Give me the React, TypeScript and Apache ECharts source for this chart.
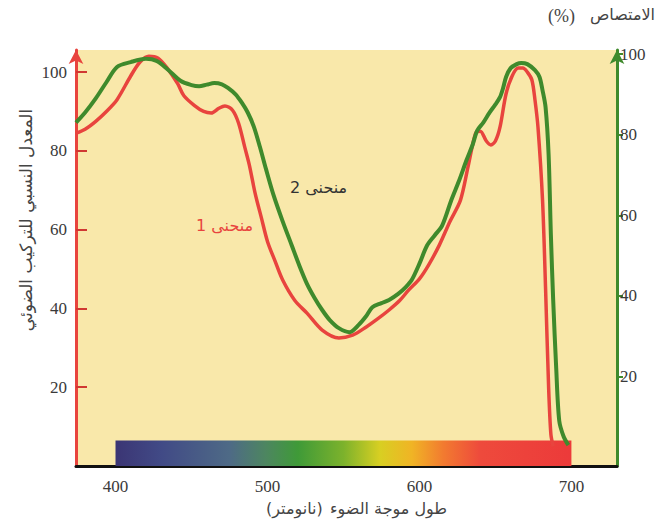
import React, { useEffect, useRef } from "react";
import * as echarts from "echarts";

// Curve 1 (red): relative rate of photosynthesis, left axis
const wavelengths1 = [374, 380, 387, 394, 401, 410, 416, 422, 428, 434, 441, 445, 452, 458, 463, 468, 472, 477, 481, 485, 488, 492, 496, 500, 505, 510, 518, 526, 536, 547, 556, 565, 572, 580, 587, 593, 600, 606, 613, 620, 627, 632, 637, 640, 644, 647, 650, 653, 657, 661, 665, 668, 671, 674, 676, 678, 681, 683, 685, 686.5, 688];
const curve1 = [84.5, 85.5, 87.5, 90, 93, 99, 102.5, 104, 103.5, 101, 97, 94, 91.5, 90, 89.6, 90.8, 91.4, 90.3, 87, 81, 76.5, 69, 63, 57, 52, 47.2, 42, 38.8, 34.5, 32.5, 33.2, 35.3, 37.2, 39.6, 42, 44.7, 47.5, 51, 56, 62, 67.5, 76, 84.5, 85, 82.5, 81.5, 82.5, 86, 94.5, 99, 101, 101, 100, 98, 93, 86, 67.5, 45, 20, 8, 5];

// Curve 2 (green): absorption %, right axis
const wavelengths2 = [374, 380, 387, 394, 401, 410, 420, 427, 434, 443, 450, 455, 460, 465, 470, 474, 479, 483, 487, 491, 495, 499, 504, 510, 516, 521, 526, 531, 536, 541, 547, 554, 560, 565, 569, 575, 580, 586, 591, 595, 600, 605, 610, 615, 621, 626, 631, 635, 638, 642, 646, 650, 653, 655, 657, 660, 664, 667, 671, 676, 679, 681, 683, 685, 686.5, 688, 690, 692, 695, 698];
const curve2 = [83, 85.5, 89, 93, 96.8, 98, 98.8, 98.3, 96.3, 93.3, 92.3, 92, 92.4, 92.8, 92.5, 91.6, 90, 88, 85.5, 82, 77, 71.5, 65, 58.5, 52.5, 47.5, 43, 39.5, 36.5, 34, 32, 31, 32.8, 35, 37.2, 38.2, 39, 40.5, 42.2, 44, 48, 52.5, 55, 57.5, 63.8, 68.5, 73.7, 77.5, 81, 83, 85.4, 87.5, 89.3, 91.5, 94.3, 96.5, 97.5, 97.8, 97.5, 96, 94.3, 91, 86.8, 75, 55, 39, 22, 9, 5, 3];

const xTickLabels = [400, 500, 600, 700];
const yTickLabels = [20, 40, 60, 80, 100];
const spectrumRange = [400, 700];

const spectrumStops = [0, 0.1, 0.25, 0.33, 0.4, 0.5, 0.58, 0.65, 0.72, 0.8, 1];
const spectrumColors = ["#3b3574", "#414a86", "#4e6a86", "#4d8660", "#3f9a38", "#7cb22c", "#d8cf22", "#f0b425", "#f27a30", "#ee4a3c", "#ec3a3a"];

const AR = "'DejaVu Sans', sans-serif";
const SERIF = "'Liberation Serif', 'DejaVu Serif', serif";
const RED = "#e8443e";
const GREEN = "#3f8a2c";

export default function App() {
  const ref = useRef<HTMLDivElement>(null);
  useEffect(() => {
    if (!ref.current) return;
    const chart = echarts.init(ref.current, null, { renderer: "svg" });
    const gradient = new echarts.graphic.LinearGradient(
      0, 0, 1, 0,
      spectrumStops.map((o, i) => ({ offset: o, color: spectrumColors[i] }))
    );
    chart.setOption({
      animation: false,
      backgroundColor: "#ffffff",
      grid: {
        left: 76, right: 43, top: 50, bottom: 59,
        show: true, backgroundColor: "#f9e8aa", borderWidth: 0,
      },
      xAxis: {
        type: "value", min: 374, max: 730,
        axisLine: { lineStyle: { color: "#111", width: 3 } },
        axisTick: { show: false },
        splitLine: { show: false },
        axisLabel: {
          customValues: xTickLabels, margin: 12,
          fontFamily: SERIF, fontSize: 17, color: "#3a3a3a",
        },
      },
      yAxis: [
        {
          type: "value", min: 0, max: 105.6, position: "left",
          axisLine: { show: true, symbol: ["none", "arrow"], symbolSize: [11, 14], lineStyle: { color: RED, width: 3 } },
          axisTick: { show: true, inside: true, length: 11, customValues: yTickLabels, lineStyle: { color: "#d03832", width: 2 } },
          axisLabel: { customValues: yTickLabels, margin: 9, fontFamily: SERIF, fontSize: 17, color: "#3a3a3a" },
          splitLine: { show: false },
        },
        {
          type: "value", min: -2.2, max: 101, position: "right",
          axisLine: { show: true, symbol: ["none", "arrow"], symbolSize: [11, 14], lineStyle: { color: GREEN, width: 3 } },
          axisTick: { show: true, inside: false, length: 6, customValues: yTickLabels, lineStyle: { color: GREEN, width: 2 } },
          axisLabel: { customValues: yTickLabels, margin: 3, fontFamily: SERIF, fontSize: 17, color: "#3a3a3a" },
          splitLine: { show: false },
        },
      ],
      series: [
        {
          type: "line", name: "منحنى 1", yAxisIndex: 0, z: 3,
          data: wavelengths1.map((w, i) => [w, curve1[i]]),
          smooth: 0.3, showSymbol: false,
          lineStyle: { color: RED, width: 3.5 },
          markArea: {
            silent: true,
            itemStyle: { color: gradient },
            data: [[{ coord: [spectrumRange[0], 0] }, { coord: [spectrumRange[1], 6.5] }]],
          },
        },
        {
          type: "line", name: "منحنى 2", yAxisIndex: 1, z: 4,
          data: wavelengths2.map((w, i) => [w, curve2[i]]),
          smooth: 0.3, showSymbol: false,
          lineStyle: { color: GREEN, width: 4 },
        },
      ],
      graphic: [
        { type: "text", x: 26, y: 220, rotation: Math.PI / 2, style: { text: "المعدل النسبي للتركيب الضوئي", font: `17px ${AR}`, fill: "#444", align: "center", verticalAlign: "middle" } },
        { type: "text", left: 290, top: 179, style: { text: "منحنى 2", font: `16px ${AR}`, fill: "#333" } },
        { type: "text", left: 196, top: 217, style: { text: "منحنى 1", font: `16px ${AR}`, fill: RED } },
        { type: "text", left: 590, top: 6, style: { text: "الامتصاص", font: `16px ${AR}`, fill: "#444" } },
        { type: "text", left: 548, top: 7, style: { text: "(%)", font: `18px ${SERIF}`, fill: "#444" } },
        { type: "text", left: 330, top: 500, style: { text: "طول موجة الضوء", font: `16px ${AR}`, fill: "#444" } },
        { type: "text", left: 266, top: 500, style: { text: "(نانومتر)", font: `16px ${AR}`, fill: "#444" } },
      ],
    });
    return () => chart.dispose();
  }, []);
  return (
    <div
      ref={ref}
      style={{ position: "fixed", left: 0, top: 0, width: 660, height: 525, background: "#fff" }}
    />
  );
}
